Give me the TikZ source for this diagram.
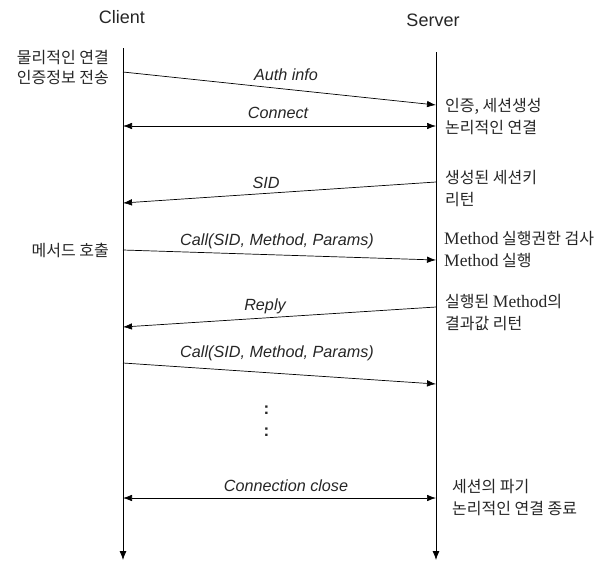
\documentclass[tikz,border=0pt]{standalone}
\usepackage{fontspec}
\setmainfont{Liberation Sans}
\newfontfamily\kr{Noto Sans CJK KR}
\newfontfamily\serifmeth{Liberation Serif}
\usetikzlibrary{arrows.meta}
\begin{document}
\begin{tikzpicture}[x=1pt,y=-1pt,
  every node/.style={inner sep=0pt,text=black!85},
  head/.style={font=\fontsize{18}{20}\selectfont},
  msg/.style={font=\fontsize{16.2}{18}\selectfont\itshape},
  note/.style={font=\kr\fontsize{16}{22}\selectfont,align=left,anchor=west},
  lnote/.style={font=\kr\fontsize{16}{20}\selectfont,align=right,anchor=east},
  dots/.style={font=\fontsize{17}{18}\selectfont\bfseries},
  life/.style={line width=0.8pt,-{Latex[length=9pt,width=7pt]}},
  one/.style={line width=0.7pt,-{Latex[length=9pt,width=6.5pt]}},
  both/.style={line width=0.7pt,{Latex[length=9pt,width=6.5pt]}-{Latex[length=9pt,width=6.5pt]}}]
\useasboundingbox (0,0) rectangle (605,563);

% participants
\node[head] (client) at (122,17) {Client};
\node[head] (server) at (433,20) {Server};

% lifelines
\coordinate (c0) at (123,48);  \coordinate (c1) at (123,560);
\coordinate (s0) at (436,52);  \coordinate (s1) at (436,560);
\draw[life] (c0) -- (c1);
\draw[life] (s0) -- (s1);

% message end points
\coordinate (a1) at (123,72);  \coordinate (b1) at (436,105);
\coordinate (a2) at (123,126); \coordinate (b2) at (436,126);
\coordinate (b3) at (436,182); \coordinate (a3) at (123,203);
\coordinate (a4) at (123,250); \coordinate (b4) at (436,260);
\coordinate (b5) at (436,307); \coordinate (a5) at (123,327);
\coordinate (a6) at (123,363); \coordinate (b6) at (436,384);
\coordinate (a7) at (123,498); \coordinate (b7) at (436,498);

% messages
\draw[one]  (a1) -- (b1);
\draw[both] (a2) -- (b2);
\draw[one]  (b3) -- (a3);
\draw[one]  (a4) -- (b4);
\draw[one]  (b5) -- (a5);
\draw[one]  (a6) -- (b6);
\draw[both] (a7) -- (b7);

% message labels
\node[msg] (l1) at (286,75)  {Auth info};
\node[msg] (l2) at (278,113) {Connect};
\node[msg] (l3) at (266,183) {SID};
\node[msg] (l4) at (277,241) {Call(SID, Method, Params)};
\node[msg] (l5) at (265,306) {Reply};
\node[msg] (l6) at (277,353) {Call(SID, Method, Params)};
\node[msg] (l7) at (286,486) {Connection close};

% ellipsis
\node[dots] (d1) at (266.5,410) {:};
\node[dots] (d2) at (266.5,432) {:};

% client side notes
\node[lnote] (n1) at (109,67) {물리적인 연결\\인증정보 전송};
\node[lnote] (n2) at (109,250) {메서드 호출};

% server side notes
\node[note] (r1) at (445,117) {인증, 세션생성\\논리적인 연결};
\node[note] (r2) at (445,189) {생성된 세션키\\리턴};
\node[note] (r3) at (444,249) {{\serifmeth\fontsize{17.5}{22}\selectfont Method} 실행권한 검사\\{\serifmeth\fontsize{17.5}{22}\selectfont Method} 실행};
\node[note] (r4) at (445,313) {실행된 {\serifmeth\fontsize{17.5}{22}\selectfont Method}의\\결과값 리턴};
\node[note] (r5) at (452,498) {세션의 파기\\논리적인 연결 종료};
\end{tikzpicture}
\end{document}
